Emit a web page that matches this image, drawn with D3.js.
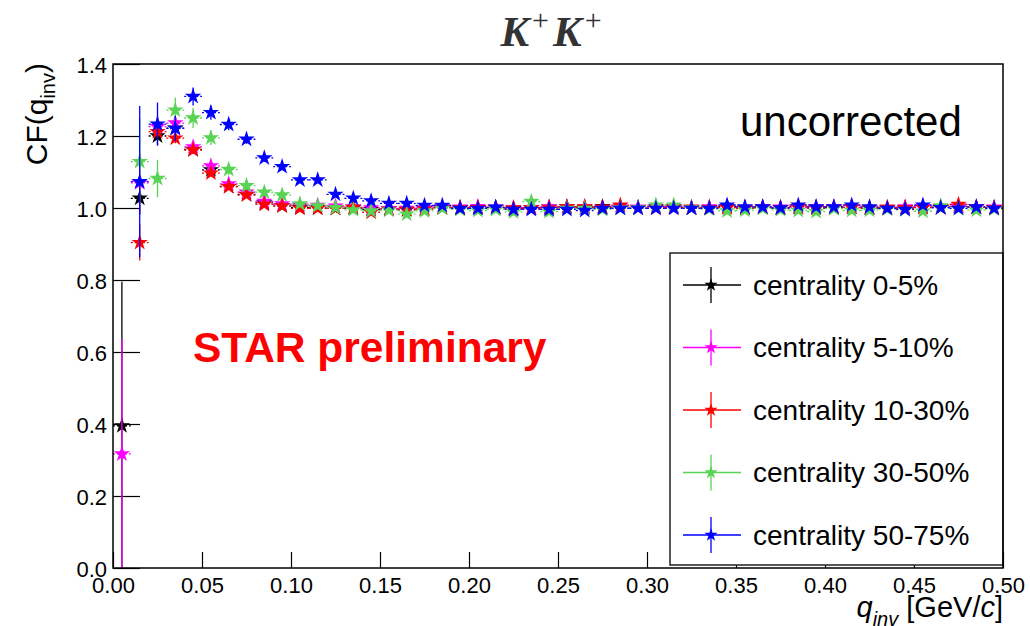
<!DOCTYPE html>
<html>
<head>
<meta charset="utf-8">
<script src="https://cdn.jsdelivr.net/npm/d3@7"></script>
<style>
  html, body { margin: 0; padding: 0; background: #ffffff; }
  svg { display: block; }
</style>
</head>
<body>
<svg id="chart" width="1030" height="626"></svg>
<script>
// Bin centres of the q_inv histogram (GeV/c), bin width 0.01
const qBins = [0.005, 0.015, 0.025, 0.035, 0.045, 0.055, 0.065, 0.075, 0.085, 0.095,
               0.105, 0.115, 0.125, 0.135, 0.145, 0.155, 0.165, 0.175, 0.185, 0.195,
               0.205, 0.215, 0.225, 0.235, 0.245, 0.255, 0.265, 0.275, 0.285, 0.295,
               0.305, 0.315, 0.325, 0.335, 0.345, 0.355, 0.365, 0.375, 0.385, 0.395,
               0.405, 0.415, 0.425, 0.435, 0.445, 0.455, 0.465, 0.475, 0.485, 0.495];
const binHalfWidth = 0.005;

// Correlation function per centrality class (null = empty bin)
const cf0to5 = [0.395, 1.027, 1.200, 1.222, 1.163, 1.106, 1.060, 1.038, 1.014, 1.006,
                1.002, 1.000, 0.999, 1.000, 0.996, 0.997, 0.995, 0.998, 1.002, 1.000,
                1.001, 1.001, 0.998, 1.000, 1.002, 1.003, 1.001, 1.004, 1.000, 1.000,
                1.003, 1.002, 1.000, 1.001, 1.004, 0.999, 1.002, 1.001, 1.003, 1.000,
                1.001, 1.002, 1.000, 0.999, 1.000, 1.003, 1.001, 1.004, 1.002, 1.000];
const cf5to10 = [0.317, 1.070, 1.226, 1.236, 1.170, 1.117, 1.067, 1.044, 1.018, 1.011,
                 1.008, 1.007, 1.005, 1.002, 1.000, 0.998, 0.999, 1.000, 1.003, 1.002,
                 1.004, 1.002, 1.000, 1.001, 1.003, 1.002, 1.004, 1.001, 1.005, 1.002,
                 1.003, 1.004, 1.001, 1.003, 1.002, 1.000, 1.004, 1.002, 1.001, 1.003,
                 1.004, 1.002, 1.001, 1.000, 1.003, 1.004, 1.002, 1.005, 1.003, 1.002];
const cf10to30 = [null, 0.904, 1.212, 1.194, 1.161, 1.097, 1.059, 1.036, 1.010, 1.006,
                  0.999, 0.999, 0.999, 1.002, 0.988, 0.996, 0.996, 0.997, 1.000, 1.000,
                  1.001, 1.001, 1.000, 1.000, 1.000, 1.003, 1.003, 1.002, 1.008, 1.000,
                  1.000, 1.002, 1.002, 1.000, 1.001, 1.000, 1.001, 1.000, 1.003, 1.001,
                  1.000, 1.002, 1.000, 1.002, 1.000, 1.001, 1.003, 1.010, 1.002, 1.000];
const cf30to50 = [null, 1.129, 1.082, 1.272, 1.250, 1.195, 1.107, 1.062, 1.044, 1.036,
                  1.011, 1.006, 1.001, 0.995, 0.992, 0.994, 0.983, 0.992, 0.999, 0.996,
                  0.993, 0.996, 0.989, 1.018, 0.990, 0.999, 0.999, 0.996, 1.000, 1.000,
                  1.008, 1.008, 1.000, 0.997, 0.992, 0.994, 0.999, 0.995, 0.993, 0.990,
                  0.998, 0.993, 0.994, 0.997, 0.995, 0.991, 1.006, 0.998, 0.994, 0.997];
const cf50to75 = [null, 1.073, 1.233, 1.221, 1.310, 1.265, 1.232, 1.191, 1.139, 1.115,
                  1.078, 1.078, 1.038, 1.027, 1.020, 1.013, 1.013, 1.007, 1.007, 0.999,
                  0.999, 1.002, 0.996, 0.996, 0.996, 0.996, 0.993, 0.999, 0.999, 0.999,
                  0.999, 0.999, 0.999, 0.999, 1.008, 1.003, 1.003, 1.000, 1.008, 1.003,
                  1.003, 1.008, 1.003, 0.999, 0.996, 1.008, 1.001, 0.999, 1.003, 0.999];

// Statistical errors on CF
const err0to5 = [0.400, 0.045, 0.025, 0.018, 0.012, 0.010, 0.008, 0.007, 0.006, 0.006,
                 0.005, 0.005, 0.005, 0.005, 0.005, 0.005, 0.005, 0.005, 0.005, 0.005,
                 0.005, 0.005, 0.005, 0.005, 0.005, 0.005, 0.005, 0.005, 0.005, 0.005,
                 0.005, 0.005, 0.005, 0.005, 0.005, 0.005, 0.005, 0.005, 0.005, 0.005,
                 0.005, 0.005, 0.005, 0.005, 0.005, 0.005, 0.005, 0.005, 0.005, 0.005];
const err5to10 = [0.320, 0.080, 0.030, 0.020, 0.014, 0.011, 0.009, 0.008, 0.007, 0.006,
                  0.006, 0.006, 0.006, 0.006, 0.006, 0.006, 0.006, 0.006, 0.006, 0.006,
                  0.006, 0.006, 0.006, 0.006, 0.006, 0.006, 0.006, 0.006, 0.006, 0.006,
                  0.006, 0.006, 0.006, 0.006, 0.006, 0.006, 0.006, 0.006, 0.006, 0.006,
                  0.006, 0.006, 0.006, 0.006, 0.006, 0.006, 0.006, 0.006, 0.006, 0.006];
const err10to30 = [null, 0.050, 0.020, 0.014, 0.010, 0.008, 0.006, 0.005, 0.004, 0.004,
                   0.004, 0.004, 0.004, 0.004, 0.004, 0.004, 0.004, 0.004, 0.004, 0.004,
                   0.004, 0.004, 0.004, 0.004, 0.004, 0.004, 0.004, 0.004, 0.004, 0.004,
                   0.004, 0.004, 0.004, 0.004, 0.004, 0.004, 0.004, 0.004, 0.004, 0.004,
                   0.004, 0.004, 0.004, 0.004, 0.004, 0.004, 0.004, 0.004, 0.004, 0.004];
const err30to50 = [null, 0.120, 0.052, 0.035, 0.028, 0.020, 0.015, 0.012, 0.010, 0.009,
                   0.008, 0.008, 0.007, 0.007, 0.007, 0.007, 0.007, 0.007, 0.007, 0.007,
                   0.007, 0.007, 0.007, 0.007, 0.007, 0.007, 0.007, 0.007, 0.007, 0.007,
                   0.007, 0.007, 0.007, 0.007, 0.007, 0.007, 0.007, 0.007, 0.007, 0.007,
                   0.007, 0.007, 0.007, 0.007, 0.007, 0.007, 0.007, 0.007, 0.007, 0.007];
const err50to75 = [null, 0.210, 0.060, 0.035, 0.025, 0.020, 0.016, 0.013, 0.011, 0.010,
                   0.009, 0.009, 0.008, 0.008, 0.008, 0.008, 0.008, 0.008, 0.008, 0.008,
                   0.008, 0.008, 0.008, 0.008, 0.008, 0.008, 0.008, 0.008, 0.008, 0.008,
                   0.008, 0.008, 0.008, 0.008, 0.008, 0.008, 0.008, 0.008, 0.008, 0.008,
                   0.008, 0.008, 0.008, 0.008, 0.008, 0.008, 0.008, 0.008, 0.008, 0.008];

const seriesLabels = ["centrality 0-5%", "centrality 5-10%", "centrality 10-30%",
                      "centrality 30-50%", "centrality 50-75%"];
const seriesColors = ["#000000", "#ff00ff", "#ff0000", "#59d354", "#0000ff"];
const seriesValues = [cf0to5, cf5to10, cf10to30, cf30to50, cf50to75];
const seriesErrors = [err0to5, err5to10, err10to30, err30to50, err50to75];

// Axis ticks
const xMajorTicks = [0, 0.05, 0.10, 0.15, 0.20, 0.25, 0.30, 0.35, 0.40, 0.45, 0.50];
const xTickLabels = ["0.00", "0.05", "0.10", "0.15", "0.20", "0.25", "0.30", "0.35", "0.40", "0.45", "0.50"];
const xMinorTicks = d3.range(0, 51).map(i => i / 100);
const yMajorTicks = [0, 0.2, 0.4, 0.6, 0.8, 1.0, 1.2, 1.4];
const yTickLabels = ["0.0", "0.2", "0.4", "0.6", "0.8", "1.0", "1.2", "1.4"];
const yMinorTicks = d3.range(0, 29).map(i => i / 20);

const frame = { left: 113, right: 1003, top: 64, bottom: 568 };
const svg = d3.select("#chart");
const sans = "'Liberation Sans', Arial, Helvetica, sans-serif";

svg.append("rect").attr("width", 1030).attr("height", 626).attr("fill", "#ffffff");

const x = d3.scaleLinear().domain([0, 0.5]).range([frame.left, frame.right]);
const y = d3.scaleLinear().domain([0, 1.4]).range([frame.bottom, frame.top]);

// Axes: ticks point into the frame
const gx = svg.append("g").attr("transform", `translate(0,${frame.bottom})`);
gx.call(d3.axisBottom(x).tickValues(xMinorTicks).tickSize(-8).tickFormat(""));
gx.call(d3.axisBottom(x).tickValues(xMajorTicks).tickSize(-16).tickPadding(9)
  .tickFormat((d, i) => xTickLabels[i]));
gx.selectAll(".domain").remove();
gx.selectAll("line").attr("stroke", "#000").attr("stroke-width", 1.2);
gx.selectAll("text").attr("font-family", sans).attr("font-size", 22).attr("fill", "#000");

const gy = svg.append("g").attr("transform", `translate(${frame.left},0)`);
gy.call(d3.axisLeft(y).tickValues(yMinorTicks).tickSize(-13).tickFormat(""));
gy.call(d3.axisLeft(y).tickValues(yMajorTicks).tickSize(-27).tickPadding(6)
  .tickFormat((d, i) => yTickLabels[i]));
gy.selectAll(".domain").remove();
gy.selectAll("line").attr("stroke", "#000").attr("stroke-width", 1.2);
gy.selectAll("text").attr("font-family", sans).attr("font-size", 22).attr("fill", "#000")
  .attr("dy", "0.40em");

// Data: error bars and star markers, drawn series by series
const star = d3.symbol().type(d3.symbolStar).size(84);
const plot = svg.append("g");
seriesValues.forEach((vals, s) => {
  const color = seriesColors[s];
  const pts = qBins.map((q, i) => ({ q, v: vals[i], e: seriesErrors[s][i] }))
                   .filter(d => d.v !== null);
  const g = plot.append("g");
  g.selectAll("line.ex").data(pts).join("line")
    .attr("x1", d => x(d.q - binHalfWidth)).attr("x2", d => x(d.q + binHalfWidth))
    .attr("y1", d => y(d.v)).attr("y2", d => y(d.v))
    .attr("stroke", color).attr("stroke-width", 1.3).attr("stroke-dasharray", "2,2");
  g.selectAll("line.ey").data(pts).join("line")
    .attr("x1", d => x(d.q)).attr("x2", d => x(d.q))
    .attr("y1", d => y(Math.max(0, d.v - d.e))).attr("y2", d => y(d.v + d.e))
    .attr("stroke", color).attr("stroke-width", 1.3);
  g.selectAll("path").data(pts).join("path")
    .attr("d", star)
    .attr("transform", d => `translate(${x(d.q)},${y(d.v)})`)
    .attr("fill", color);
});

// Legend box
const legend = { x0: 670, x1: 1003, y0: 253, y1: 565, rowTop: 285, rowStep: 62.5 };
svg.append("rect")
  .attr("x", legend.x0).attr("y", legend.y0)
  .attr("width", legend.x1 - legend.x0).attr("height", legend.y1 - legend.y0)
  .attr("fill", "#ffffff").attr("stroke", "#222").attr("stroke-width", 1.5);
seriesLabels.forEach((lab, i) => {
  const cy = legend.rowTop + i * legend.rowStep;
  const g = svg.append("g");
  g.append("line").attr("x1", 683).attr("x2", 741).attr("y1", cy).attr("y2", cy)
    .attr("stroke", seriesColors[i]).attr("stroke-width", 1.3);
  g.append("line").attr("x1", 711).attr("x2", 711).attr("y1", cy - 18).attr("y2", cy + 18)
    .attr("stroke", seriesColors[i]).attr("stroke-width", 1.3);
  g.append("path").attr("d", d3.symbol().type(d3.symbolStar).size(55)())
    .attr("transform", `translate(711,${cy})`).attr("fill", seriesColors[i]);
  g.append("text").attr("x", 753).attr("y", cy + 9.5)
    .attr("font-family", sans).attr("font-size", 28).attr("fill", "#000").text(lab);
});

// Frame
svg.append("rect")
  .attr("x", frame.left).attr("y", frame.top)
  .attr("width", frame.right - frame.left).attr("height", frame.bottom - frame.top)
  .attr("fill", "none").attr("stroke", "#000").attr("stroke-width", 1.5);

// Title
const title = svg.append("text").attr("x", 551).attr("y", 46).attr("text-anchor", "middle")
  .attr("font-family", "'Liberation Serif', 'DejaVu Serif', serif")
  .attr("font-weight", "bold").attr("font-style", "italic")
  .attr("font-size", 43).attr("fill", "#333");
title.append("tspan").text("K");
title.append("tspan").attr("dx", 3).attr("dy", -16).attr("font-size", 30)
  .attr("font-style", "normal").attr("font-weight", "normal").text("+");
title.append("tspan").attr("dx", 4).attr("dy", 16).text("K");
title.append("tspan").attr("dx", 3).attr("dy", -16).attr("font-size", 30)
  .attr("font-style", "normal").attr("font-weight", "normal").text("+");

// Annotations
svg.append("text").attr("x", 740).attr("y", 136)
  .attr("font-family", sans).attr("font-size", 42).attr("fill", "#000").text("uncorrected");
svg.append("text").attr("x", 193).attr("y", 362)
  .attr("font-family", sans).attr("font-weight", "bold").attr("font-size", 42.5)
  .attr("fill", "#ff0000").text("STAR preliminary");

// Y axis title
const yTitle = svg.append("text")
  .attr("transform", "translate(47,63) rotate(-90)")
  .attr("text-anchor", "end")
  .attr("font-family", sans).attr("font-size", 30).attr("fill", "#000");
yTitle.append("tspan").text("CF(q");
yTitle.append("tspan").attr("dy", 8).attr("font-size", 20).text("inv");
yTitle.append("tspan").attr("dy", -8).text(")");

// X axis title
const xTitle = svg.append("text").attr("x", 1003).attr("y", 617).attr("text-anchor", "end")
  .attr("font-family", sans).attr("font-size", 29).attr("fill", "#000");
xTitle.append("tspan").attr("font-style", "italic").text("q");
xTitle.append("tspan").attr("dy", 9).attr("font-size", 20).attr("font-style", "italic").text("inv");
xTitle.append("tspan").attr("dy", -9).text(" [GeV/");
xTitle.append("tspan").attr("font-style", "italic").text("c");
xTitle.append("tspan").text("]");
</script>
</body>
</html>
